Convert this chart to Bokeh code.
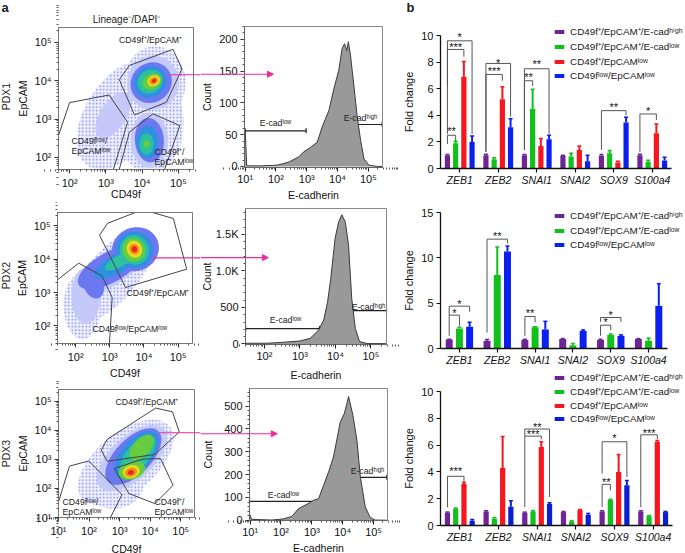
import math
from bokeh.plotting import figure
from bokeh.layouts import column, row
from bokeh.embed import file_html
from bokeh.resources import INLINE
from bokeh.models import (Range1d, FixedTicker, Label, Arrow, NormalHead, TeeHead, Whisker, Legend, LegendItem,
                          ColumnDataSource, LinearAxis, LogAxis, LogScale)

FONT = "Liberation Sans"
GENES = ["ZEB1", "ZEB2", "SNAI1", "SNAI2", "SOX9", "S100a4"]
LOW = "\u02e1\u1d52\u02b7"
HIGH = "\u02b0\u2071\u1d4d\u02b0"
P = "\u207a"
S1 = f"CD49f{P}/EpCAM{P}/E-cad{HIGH}"
S2 = f"CD49f{P}/EpCAM{P}/E-cad{LOW}"
S3 = f"CD49f{P}/EpCAM{LOW}"
S4 = f"CD49f{LOW}/EpCAM{LOW}"
PURPLE, GREEN, RED, BLUE = "#6f2496", "#12c01c", "#f5161f", "#0b20ee"

# ---- fold change bars: value, top of error bar
R1_S1 = [1.0, 1.0, 1.0, .95, .95, 1.0]
R1_S1E = [1.05, 1.07, 1.05, 1.0, 1.05, 1.07]
R1_S2 = [1.9, .7, 4.5, .9, 1.15, .5]
R1_S2E = [2.05, .8, 5.95, 1.15, 1.35, .62]
R1_S3 = [6.9, 5.2, 1.7, 1.4, .45, 2.65]
R1_S3E = [8.05, 6.15, 2.25, 1.7, .55, 3.35]
R1_S4 = [2.0, 3.1, 2.2, .55, 3.45, .6]
R1_S4E = [2.45, 3.75, 2.5, 1.0, 3.85, .85]

R2_S1 = [1.0, .85, .95, 1.05, .95, 1.05]
R2_S1E = [1.03, .98, 1.02, 1.1, 1.02, 1.1]
R2_S2 = [2.2, 8.1, 2.35, .35, 1.5, .85]
R2_S2E = [2.35, 11.2, 2.4, .55, 1.6, 1.15]
R2_S4 = [2.4, 10.7, 2.1, 1.95, 1.4, 4.7]
R2_S4E = [2.9, 11.3, 3.0, 2.05, 1.5, 7.15]

R3_S1 = [.95, 1.05, .95, 1.0, 1.05, 1.05]
R3_S1E = [1.0, 1.1, 1.0, 1.05, 1.1, 1.1]
R3_S2 = [1.25, .5, 1.05, .3, 1.9, .7]
R3_S2E = [1.3, .6, 1.1, .35, 1.95, .75]
R3_S3 = [3.1, 4.3, 5.85, 1.15, 4.0, 6.25]
R3_S3E = [3.2, 6.65, 6.25, 1.2, 5.3, 6.35]
R3_S4 = [.35, 1.4, 1.6, .8, 3.0, 1.0]
R3_S4E = [.45, 1.85, 1.7, .9, 3.35, 1.05]

# significance: gene, bar a, bar b, top, left foot, right foot, stars, star height
R1_SIG = [(0, 0, 1, 2.5, 1.85, 2.1, "**", 2.85), (0, 0, 2, 8.95, 6.25, 8.4, "***", 9.1), (0, 0, 3, 9.6, 2.6, 2.6, "*", 9.9),
          (1, 0, 3, 7.9, 1.25, 3.9, "*", 7.95), (1, 0, 2, 7.07, 1.25, 6.6, "***", 7.3),
          (2, 0, 3, 7.5, 1.4, 2.6, "**", 7.85), (2, 0, 1, 6.6, 1.4, 6.2, "**", 6.85),
          (4, 0, 3, 4.35, 1.4, 4.0, "**", 4.65), (5, 0, 2, 4.1, 1.25, 3.65, "*", 4.3)]
R2_SIG = [(0, 0, 1, 3.68, 1.4, 2.5, "*", 3.9), (0, 0, 2, 4.67, 3.68, 4.05, "*", 4.9),
          (1, 0, 2, 12.06, 1.76, 11.6, "**", 12.45), (2, 0, 1, 3.53, 1.4, 2.87, "**", 3.9),
          (4, 0, 1, 2.57, 1.4, 2.0, "*", 2.9), (4, 0, 2, 3.42, 2.94, 2.94, "*", 3.75)]
R3_SIG = [(0, 0, 2, 3.67, 1.37, 3.2, "***", 4.1), (2, 0, 2, 6.67, 1.37, 6.43, "***", 6.8), (2, 0, 3, 7.2, 6.67, 2.12, "**", 7.35),
          (4, 0, 1, 3.07, 1.37, 2.62, "**", 3.27), (4, 0, 3, 6.25, 3.87, 3.62, "*", 6.5), (5, 0, 2, 6.77, 1.37, 6.45, "***", 6.93)]

# ---- histograms: log10 E-cadherin, count
H1_X = [1.0, 1.01, 1.05, 1.5, 2.04, 2.42, 2.74, 2.9, 3.12, 3.34, 3.5, 3.72, 3.88, 4.04, 4.15, 4.23, 4.3, 4.35, 4.42, 4.51, 4.64, 4.75, 4.86, 5.02, 5.29, 5.46]
H1_Y = [57, 50, 1, 1, 2, 7, 15, 23, 30, 38, 62, 88, 122, 151, 186, 193, 182, 196, 175, 136, 78, 41, 12, 2, 0, 0]
H2_X = [1.47, 2.07, 2.54, 3.01, 3.29, 3.53, 3.67, 3.78, 3.87, 3.99, 4.09, 4.18, 4.28, 4.37, 4.46, 4.56, 4.68, 4.89, 5.44]
H2_Y = [9, 9, 23, 41, 77, 191, 327, 577, 895, 1441, 1668, 1768, 1668, 1350, 623, 214, 32, 5, 3]
H3_X = [.98, 1.05, 1.7, 2.08, 2.35, 2.57, 2.84, 3.05, 3.22, 3.38, 3.54, 3.7, 3.92, 4.05, 4.19, 4.33, 4.46, 4.57, 4.73, 4.89, 5.05, 5.45]
H3_Y = [29, 4, 1, 6, 17, 51, 70, 87, 95, 153, 211, 277, 430, 466, 542, 459, 350, 190, 58, 12, 1, 0]

# ---- flow gates (log10 CD49f, log10 EpCAM)
G1 = [[(3.37, 4.03), (3.65, 4.40), (4.85, 4.82), (5.10, 4.31), (4.67, 3.44), (3.79, 3.11), (3.37, 4.03)],
      [(1.70, 2.59), (2.0, 3.43), (3.09, 3.63), (3.60, 2.92), (3.21, 1.69)],
      [(3.37, 1.69), (3.65, 2.66), (4.30, 3.14), (5.04, 2.83), (4.62, 1.69)]]
G2 = [[(2.70, 4.72), (2.94, 5.08), (3.75, 5.40), (4.25, 5.40), (4.86, 5.22), (5.25, 3.70), (3.46, 3.15), (2.70, 4.72)],
      [(1.47, 3.38), (2.09, 3.88), (2.77, 3.5), (3.07, 2.85), (2.99, 1.47)]]
G3 = [[(2.40, 3.32), (2.59, 3.69), (4.18, 4.77), (4.73, 4.64), (4.95, 3.95), (4.15, 3.17), (2.59, 2.94), (2.40, 3.32)],
      [(2.83, 2.69), (3.74, 3.01), (4.34, 3.03), (4.75, 2.11), (4.15, 1.48), (3.30, 1.83), (2.83, 2.69)],
      [(1.0, 1.54), (1.36, 2.77), (1.99, 2.95), (3.08, 1.79), (2.70, 1.0)]]

# ---- density regions: level, x, y, rx, ry, rotation
LEVELS = ["#ffffff", "#c4c9fa", "#6c78f0", "#2f8fe0", "#2cc0a0", "#66cc40", "#e8dc22", "#f58c1a", "#e8261f"]
D1 = [(0, 3.4, 3.1, 1.6, .95, 55), (0, 4.2, 2.9, .95, 1.3, 0), (0, 4.35, 3.95, .85, .95, 0),
      (1, 4.3, 3.95, .72, .7, 30), (1, 4.2, 2.45, .52, .72, 0), (1, 3.2, 3.1, .7, .35, 55),
      (2, 4.25, 3.95, .58, .52, 25), (2, 4.2, 2.45, .4, .58, 5),
      (3, 4.22, 3.97, .46, .4, 25), (3, 4.15, 2.4, .3, .42, 0),
      (4, 4.22, 3.98, .36, .3, 25), (4, 4.12, 2.35, .2, .28, 0),
      (5, 4.27, 3.98, .27, .2, 25), (5, 4.12, 2.35, .08, .1, 0),
      (6, 4.32, 4.0, .18, .14, 25), (7, 4.32, 4.0, .12, .09, 25), (8, 4.33, 4.0, .06, .05, 25)]
D2 = [(0, 3.05, 3.5, 1.75, .75, 50), (0, 2.2, 2.6, .55, 1.0, 0),
      (1, 2.3, 2.9, .42, .85, 0), (1, 3.2, 3.85, 1.3, .5, 38),
      (2, 3.0, 3.75, 1.05, .45, 30), (2, 2.5, 3.3, .3, .5, 20), (2, 3.75, 4.3, .7, .65, 30),
      (3, 3.2, 3.85, .75, .27, 30), (3, 3.72, 4.28, .55, .55, 30),
      (4, 3.3, 3.95, .5, .17, 30), (4, 3.72, 4.28, .42, .45, 20),
      (5, 3.7, 4.28, .33, .36, 20), (6, 3.72, 4.3, .22, .26, 20), (7, 3.72, 4.3, .14, .16, 20), (8, 3.72, 4.3, .08, .09, 20)]
D3 = [(0, 3.2, 2.9, 1.9, 1.0, 42), (0, 2.8, 2.2, 1.0, .9, 0),
      (1, 3.4, 3.05, 1.45, .72, 45), (2, 3.45, 3.1, 1.2, .6, 48), (3, 3.55, 3.15, .98, .5, 52),
      (4, 3.6, 3.15, .8, .38, 52), (5, 3.72, 3.42, .52, .28, 50), (5, 3.4, 2.62, .45, .3, 20),
      (6, 3.38, 2.58, .28, .22, 20), (7, 3.37, 2.56, .2, .15, 20), (8, 3.37, 2.55, .1, .08, 20)]

SUP = str.maketrans("0123456789", "\u2070\u00b9\u00b2\u00b3\u2074\u2075\u2076\u2077\u2078\u2079")


def stretch(lo, hi, a, b, total):
    """Range covering the whole canvas so that lo..hi lands on canvas pixels a..b."""
    per = (hi - lo) / (b - a)
    return lo - a * per, lo + (total - a) * per


def blob(x, y, rx, ry, rot):
    t = math.radians(rot)
    xs, ys = [], []
    for i in range(40):
        a = 2 * math.pi * i / 40
        ex, ey = rx * math.cos(a), ry * math.sin(a)
        xs.append(10 ** (x + ex * math.cos(t) - ey * math.sin(t)))
        ys.append(10 ** (y + ex * math.sin(t) + ey * math.cos(t)))
    return xs, ys


def log_ticks(ax, lo, hi):
    ticks = [10 ** k for k in range(lo, hi + 1)]
    minors = [m * 10 ** k for k in range(lo - 1, hi + 1) for m in range(2, 10)]
    ax.ticker = FixedTicker(ticks=ticks, minor_ticks=minors)
    ax.major_label_overrides = {10 ** k: "10" + str(k).translate(SUP) for k in range(lo, hi + 1)}


def style(ax, size="11px", label="10.5px", standoff=5):
    ax.major_label_text_font = FONT
    ax.major_label_text_font_size = size
    ax.major_label_text_color = "#111111"
    ax.axis_label_text_font = FONT
    ax.axis_label_text_font_size = label
    ax.axis_label_text_font_style = "normal"
    ax.axis_label_text_color = "#111111"
    ax.axis_label_standoff = standoff


def text(p, ox, bottom, px, py, s, size="8.7px", **kw):
    # page pixel (px, py) -> canvas offset of a figure whose canvas starts at ox and ends at bottom
    p.add_layout(Label(x=px - ox, y=bottom - py, x_units="screen", y_units="screen", text=s, text_font=FONT,
                       text_font_size=size, text_color="#222222", text_baseline=kw.pop("baseline", "middle"),
                       text_align=kw.pop("align", "left"), **kw))


def canvas_figure(xr, yr, w, h):
    p = figure(x_axis_type=None, y_axis_type=None, x_range=Range1d(*xr), y_range=Range1d(*yr),
               output_backend="svg", toolbar_location=None, width=w, height=h,
               min_border_left=0, min_border_right=0, min_border_top=0, min_border_bottom=0,
               frame_width=w, frame_height=h)
    p.outline_line_color = None
    p.grid.visible = False
    return p


def log_panel(xd, yd, geom, y_log):
    left, right, top, bottom, w, h = geom
    a = stretch(xd[0], xd[1], left, w - right, w)
    xr = (10 ** a[0], 10 ** a[1])
    b = stretch(yd[0], yd[1], bottom, h - top, h)
    yr = (10 ** b[0], 10 ** b[1]) if y_log else b
    p = canvas_figure(xr, yr, w, h)
    p.x_scale = LogScale()
    if y_log:
        p.y_scale = LogScale()
    return p


def dot_panel(xd, yd, geom, blobs, gates, ticks_x, ticks_y, sx_, sy_):
    p = log_panel(xd, yd, geom, True)
    X0, X1, Y0, Y1 = 10 ** xd[0], 10 ** xd[1], 10 ** yd[0], 10 ** yd[1]
    for lvl in sorted({b[0] for b in blobs}):
        shapes = [blob(*b[1:]) for b in blobs if b[0] == lvl]
        if lvl == 0:
            # sparse outer events: fine blue stipple on white
            p.patches([s[0] for s in shapes], [s[1] for s in shapes], fill_color="#eef0fe", line_color=None,
                      hatch_pattern="dot", hatch_color="#7d88f2", hatch_scale=3.5, hatch_weight=1)
        else:
            p.patches([s[0] for s in shapes], [s[1] for s in shapes], fill_color=LEVELS[lvl], line_color=None)
    XS, XE, YS, YE = p.x_range.start, p.x_range.end, p.y_range.start, p.y_range.end
    p.quad(left=[XS, X1, XS, XS], right=[X0, XE, XE, XE], bottom=[YS, YS, YS, Y1], top=[YE, YE, Y0, YE],
           fill_color="white", line_color=None)
    p.multi_line([[10 ** v[0] for v in g] for g in gates], [[10 ** v[1] for v in g] for g in gates],
                 line_color="#444444", line_width=1)
    p.quad(left=[X0], right=[X1], bottom=[Y0], top=[Y1], fill_color=None, line_color="#777777")
    xa = LogAxis(fixed_location=Y0, bounds=(X0, X1), axis_label="CD49f")
    ya = LogAxis(fixed_location=X0, bounds=(Y0, Y1), axis_label="EpCAM")
    p.add_layout(xa, "below")
    p.add_layout(ya, "left")
    log_ticks(xa, *ticks_x)
    log_ticks(ya, *ticks_y)
    for ax, st in ((xa, sx_), (ya, sy_)):
        style(ax, standoff=st)
        ax.axis_line_color = "#777777"
        ax.major_tick_line_color = "#333333"
        ax.minor_tick_line_color = "#555555"
        ax.major_tick_out, ax.major_tick_in, ax.minor_tick_out, ax.minor_tick_in = 4, 0, 2, 0
        ax.major_label_standoff = 3
    return p


def hist_panel(xd, yd, geom, hx, hy, ticks_x, yticks, yminor, overrides, low, high, sx_, sy_):
    p = log_panel(xd, yd, geom, False)
    X0, X1 = 10 ** xd[0], 10 ** xd[1]
    xs = [10 ** v for v in hx]
    p.varea(xs, [0] * len(xs), hy, fill_color="#999999")
    p.line(xs, hy, line_color="#3a3a3a", line_width=1)
    p.quad(left=[X0], right=[X1], bottom=[yd[0]], top=[yd[1]], fill_color=None, line_color="#888888")
    for (a, b, c) in (low, high):
        p.add_layout(Whisker(dimension="width", base=c, lower=10 ** a, upper=10 ** b, line_color="#222222",
                             line_width=1.2, upper_head=TeeHead(size=5, line_color="#222222", line_width=1.2),
                             lower_head=TeeHead(size=5, line_color="#222222", line_width=1.2)))
    xa = LogAxis(fixed_location=yd[0], bounds=(X0, X1), axis_label="E-cadherin")
    ya = LinearAxis(fixed_location=X0, bounds=yd, axis_label="Count")
    p.add_layout(xa, "below")
    p.add_layout(ya, "left")
    log_ticks(xa, *ticks_x)
    ya.ticker = FixedTicker(ticks=yticks, minor_ticks=yminor)
    ya.major_label_overrides = overrides
    for ax, st, ml in ((xa, sx_, 1), (ya, sy_, 3)):
        style(ax, standoff=st)
        ax.axis_line_color = "#666666"
        ax.major_tick_line_color = "#222222"
        ax.minor_tick_line_color = "#555555"
        ax.major_tick_out, ax.major_tick_in, ax.minor_tick_out, ax.minor_tick_in = 4, 0, 2, 0
        ax.major_label_standoff = ml
    return p


def bar_panel(geom, series, offs, bw, ymax, yticks, sig, legend_xy, spacing):
    left, right, top, bottom, w, h = geom
    xr = stretch(0, 6, left, w - right, w)
    yr = stretch(0, ymax, bottom, h - top, h)
    p = canvas_figure(xr, yr, w, h)
    xa = LinearAxis(fixed_location=0, bounds=(0, 6))
    ya = LinearAxis(fixed_location=0, bounds=(0, ymax), axis_label="Fold change")
    p.add_layout(xa, "below")
    p.add_layout(ya, "left")
    centers = [i + .5 for i in range(len(GENES))]
    xa.ticker = FixedTicker(ticks=centers)
    xa.major_label_overrides = dict(zip(centers, GENES))
    ya.ticker = FixedTicker(ticks=yticks)
    style(ya, "11px", "11px", 3)
    style(xa, "10.5px")
    xa.major_label_text_font_style = "italic"
    for ax, ml in ((xa, 1), (ya, 3)):
        ax.axis_line_color = "#111111"
        ax.axis_line_width = 1.3
        ax.major_tick_line_color = "#111111"
        ax.major_tick_line_width = 1.2
        ax.minor_tick_line_color = None
        ax.major_tick_out, ax.major_tick_in = 4, 0
        ax.major_label_standoff = ml
    items = []
    for (name, color, vals, errs), off in zip(series, offs):
        src = ColumnDataSource(dict(x=[c + off for c in centers], v=vals, e=errs))
        r = p.vbar(x="x", top="v", width=bw, source=src, fill_color=color, line_color=None)
        p.add_layout(Whisker(base="x", lower="v", upper="e", source=src, line_color=color, line_width=2,
                             upper_head=TeeHead(size=4, line_color=color, line_width=1.5), lower_head=None))
        items.append(LegendItem(label=name, renderers=[r]))
    lines_x, lines_y, sx, sy, st = [], [], [], [], []
    for g, a, b, t, fa, fb, stars, h_star in sig:
        xa_, xb_ = g + .5 + offs[a], g + .5 + offs[b]
        lines_x.append([xa_, xa_, xb_, xb_])
        lines_y.append([fa, t, t, fb])
        sx.append((xa_ + xb_) / 2)
        sy.append(h_star)
        st.append(stars)
    p.multi_line(lines_x, lines_y, line_color="#555555", line_width=1)
    p.text(sx, sy, text=st, text_font={"value": FONT}, text_font_size={"value": "11px"}, text_align="center",
           text_baseline="middle", text_color="#111111")
    lg = Legend(items=items, location=legend_xy, padding=0, margin=0, spacing=spacing, glyph_width=12, glyph_height=5,
                label_standoff=5, label_height=12, label_text_font=FONT, label_text_font_size="9.9px",
                label_text_color="#222222", background_fill_alpha=0, border_line_color=None, label_text_line_height=1.0)
    p.add_layout(lg, "center")
    return p


# ---- left column
a1 = dot_panel((1.694, 5.417), (1.686, 5.39), (58, 7, 27, 33, 200, 202), D1, G1, (2, 5), (2, 5), -4, 3)
a2 = dot_panel((1.47, 5.42), (1.47, 5.40), (57, 8, 10, 37, 200, 178), D2, G2, (2, 5), (2, 5), 1, 3)
a3 = dot_panel((1.0, 5.45), (1.0, 5.41), (58, 6, 9, 36, 200, 173), D3, G3, (1, 5), (1, 5), 3, 3)

text(a1, 0, 202, 1, 7, "a", size="13px", text_font_style="bold")
text(a1, 0, 202, 126, 19, "Lineage\u207b/DAPI\u207b", size="10px", align="center")
text(a1, 0, 202, 150, 39, f"CD49f{P}/EpCAM{P}", align="center")
text(a1, 0, 202, 71, 140, f"CD49f{LOW}/")
text(a1, 0, 202, 71, 150, f"EpCAM{LOW}")
text(a1, 0, 202, 154, 151, f"CD49f{P}/")
text(a1, 0, 202, 154, 161, f"EpCAM{LOW}")
text(a2, 0, 380, 126, 292, f"CD49f{P}/EpCAM{P}")
text(a2, 0, 380, 92, 328, f"CD49f{LOW}/EpCAM{LOW}")
text(a3, 0, 553, 115, 401, f"CD49f{P}/EpCAM{P}")
text(a3, 0, 553, 62, 501, f"CD49f{LOW}/")
text(a3, 0, 553, 62, 511, f"EpCAM{LOW}")
text(a3, 0, 553, 154, 501, f"CD49f{P}/")
text(a3, 0, 553, 154, 511, f"EpCAM{LOW}")
text(a1, 0, 202, 5, 96, "PDX1", size="10.5px", align="center", angle=math.pi / 2)
text(a2, 0, 380, 5, 275, "PDX2", size="10.5px", align="center", angle=math.pi / 2)
text(a3, 0, 553, 5, 453, "PDX3", size="10.5px", align="center", angle=math.pi / 2)

# ---- middle column
h1 = hist_panel((.98, 5.46), (-1.6, 220), (44, 18, 26, 35, 200, 202), H1_X, H1_Y, (1, 5),
                [0, 50, 100, 150, 200], list(range(0, 221, 10)), {}, (1.0, 2.98, 56), (4.17, 5.45, 66), 1, 3)
h2 = hist_panel((1.466, 5.44), (-8, 1854), (45, 14, 6, 36, 200, 178), H2_X, H2_Y, (2, 5),
                [0, 500, 1000, 1500], list(range(0, 1801, 100)), {500: "500", 1000: "1.0K", 1500: "1.5K"},
                (1.47, 3.55, 209), (4.07, 5.44, 455), 4, 0)
h3 = hist_panel((.98, 5.45), (-1, 577), (49, 13, 8, 33, 200, 173), H3_X, H3_Y, (1, 5),
                [0, 100, 200, 300, 400, 500], list(range(0, 561, 20)), {},
                (.98, 3.22, 83), (4.03, 5.43, 188), 1, 7)
text(h1, 200, 202, 275, 122, f"E-cad{LOW}", align="center")
text(h1, 200, 202, 360, 117, f"E-cad{HIGH}", align="center")
text(h2, 200, 380, 285, 319, f"E-cad{LOW}", align="center")
text(h2, 200, 380, 368, 306, f"E-cad{HIGH}", align="center")
text(h3, 200, 553, 283, 494, f"E-cad{LOW}", align="center")
text(h3, 200, 553, 367, 470, f"E-cad{HIGH}", align="center")

# ---- pink connectors
PINK = "#ef2a9e"
for p, x0, x1, y in ((a1, 4.75, 5.64, 4.157), (a2, 4.256, 5.667, 4.04), (a3, 4.31, 5.66, 3.92)):
    p.add_layout(Arrow(x_start=10 ** x0, x_end=10 ** x1, y_start=10 ** y, y_end=10 ** y, line_color=PINK, line_width=1.1, end=None))
for p, x0, x1, y in ((h1, -.45, 1.92, 145), (h2, .2, 2.11, 1182), (h3, -.62, 1.88, 379)):
    p.add_layout(Arrow(x_start=10 ** x0, x_end=10 ** x1, y_start=y, y_end=y, line_color=PINK, line_width=1.1,
                       end=NormalHead(size=6, fill_color=PINK, line_color=PINK)))

# ---- right column
b1 = bar_panel((40, 14, 35, 27, 285, 195),
               [(S1, PURPLE, R1_S1, R1_S1E), (S2, GREEN, R1_S2, R1_S2E), (S3, RED, R1_S3, R1_S3E), (S4, BLUE, R1_S4, R1_S4E)],
               [-.32, -.107, .107, .32], .135, 10, [0, 2, 4, 6, 8, 10], R1_SIG, (153, 114), 1)
b2 = bar_panel((40, 18, 17, 20, 285, 173),
               [(S1, PURPLE, R2_S1, R2_S1E), (S2, GREEN, R2_S2, R2_S2E), (S4, BLUE, R2_S4, R2_S4E)],
               [-.27, 0, .27], .185, 15, [0, 5, 10, 15], R2_SIG, (153, 118), 1)
b3 = bar_panel((40, 13, 23, 28, 285, 185),
               [(S1, PURPLE, R3_S1, R3_S1E), (S2, GREEN, R3_S2, R3_S2E), (S3, RED, R3_S3, R3_S3E), (S4, "#0a1fd4", R3_S4, R3_S4E)],
               [-.32, -.107, .107, .32], .135, 10, [0, 2, 4, 6, 8, 10], R3_SIG, (153, 129), 0)
text(b1, 400, 195, 406, 7, "b", size="13px", text_font_style="bold", align="left")

page = row(column(a1, a2, a3, spacing=0), column(h1, h2, h3, spacing=0), column(b1, b2, b3, spacing=0), spacing=0,
           styles={"position": "absolute", "left": "0px", "top": "0px"})
open("out.html", "w").write(file_html(page, INLINE))
